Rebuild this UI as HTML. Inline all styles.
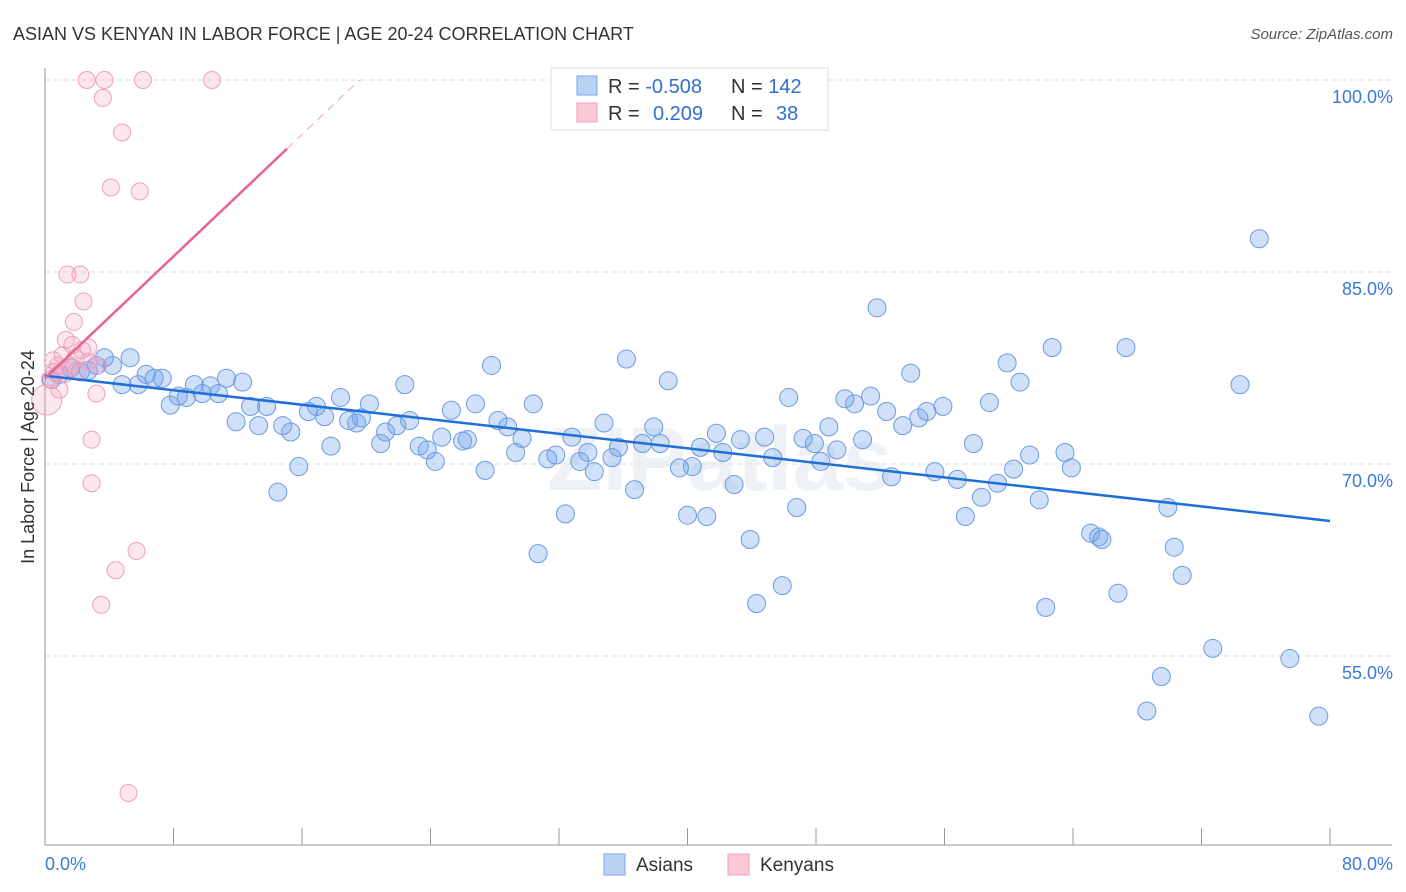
<!DOCTYPE html>
<html><head><meta charset="utf-8"><style>
body{margin:0;background:#fff;font-family:"Liberation Sans",sans-serif;}
svg{display:block}
</style></head><body>
<svg id="chart" width="1406" height="892">
<text x="13" y="40" font-size="18" fill="#333">ASIAN VS KENYAN IN LABOR FORCE | AGE 20-24 CORRELATION CHART</text>
<text x="1393" y="39" font-size="15" fill="#555" font-style="italic" text-anchor="end">Source: ZipAtlas.com</text>
<text x="720" y="490" font-size="90" fill="#eef2f7" text-anchor="middle" font-weight="bold">ZIPatlas</text>
<g id="grid"></g>
<g id="axes"></g>
<g id="pts"></g>
<g id="lines"></g>
<text transform="translate(34,457) rotate(-90)" font-size="18" fill="#333" text-anchor="middle">In Labor Force | Age 20-24</text>
<text x="45" y="870" font-size="18" fill="#3a7bd5">0.0%</text>
<text x="1393" y="870" font-size="18" fill="#3a7bd5" text-anchor="end">80.0%</text>
<g>
<rect x="551" y="68" width="277" height="62" fill="#fff" stroke="#ddd"/>
<rect x="577" y="76" width="20" height="19" fill="#b9d3f5" stroke="#7aa6e6"/>
<rect x="577" y="103" width="20" height="19" fill="#fbc8d6" stroke="#f0a0b8"/>
<text x="608" y="93" font-size="20" fill="#333">R = <tspan fill="#2f6fd0">-0.508</tspan></text>
<text x="731" y="93" font-size="20" fill="#333">N = <tspan fill="#2f6fd0">142</tspan></text>
<text x="608" y="120" font-size="20" fill="#333">R = <tspan fill="#2f6fd0" x="653">0.209</tspan></text>
<text x="731" y="120" font-size="20" fill="#333">N = <tspan fill="#2f6fd0" x="776">38</tspan></text>
</g>
<g>
<rect x="604" y="854" width="21" height="21" fill="#b9d3f5" stroke="#7aa6e6"/>
<text x="636" y="871" font-size="19" fill="#333">Asians</text>
<rect x="728" y="854" width="21" height="21" fill="#fbc8d6" stroke="#f0a0b8"/>
<text x="760" y="871" font-size="19" fill="#333">Kenyans</text>
</g>
</svg>
<script>
const yTicks=[100,85,70,55];
const yTickLabels=["100.0%","85.0%","70.0%","55.0%"];
const xTicks=[0,8,16,24,32,40,48,56,64,72,80];
const asianX=[0.4,0.9,1.6,2.2,2.7,3.2,3.7,4.2,4.8,5.3,5.8,6.3,6.8,7.3,7.8,8.3,8.8,9.3,9.8,10.3,10.8,11.3,11.9,12.3,12.8,13.3,13.8,14.5,14.8,15.3,15.8,16.4,16.9,17.4,17.8,18.4,18.9,19.4,19.7,20.2,20.9,21.2,21.9,22.4,22.7,23.3,23.8,24.3,24.7,25.3,26.0,26.3,26.8,27.4,27.8,28.2,28.8,29.3,29.7,30.4,30.7,31.3,31.8,32.4,32.8,33.3,33.8,34.2,34.8,35.3,35.7,36.2,36.7,37.2,37.9,38.3,38.8,39.5,40.0,40.3,40.8,41.2,41.8,42.2,42.9,43.3,43.9,44.3,44.8,45.3,45.9,46.3,46.8,47.2,47.9,48.3,48.8,49.3,49.8,50.4,50.9,51.4,51.8,52.4,52.7,53.4,53.9,54.4,54.9,55.4,55.9,56.8,57.3,57.8,58.3,58.8,59.3,59.9,60.3,60.7,61.3,61.9,62.3,62.7,63.5,63.9,65.1,65.6,65.8,66.8,67.3,68.6,69.5,69.9,70.3,70.8,72.7,74.4,75.6,77.5,79.3];
const asianY=[76.6,77.0,77.5,77.2,77.3,77.7,78.3,77.7,76.2,78.3,76.2,77.0,76.7,76.7,74.6,75.3,75.2,76.2,75.5,76.1,75.5,76.7,73.3,76.4,74.5,73.0,74.5,67.8,73.0,72.5,69.8,74.1,74.5,73.7,71.4,75.2,73.4,73.2,73.6,74.7,71.6,72.5,73.0,76.2,73.4,71.4,71.1,70.2,72.1,74.2,71.8,71.9,74.7,69.5,77.7,73.4,72.9,70.9,72.0,74.7,63.0,70.4,70.7,66.1,72.1,70.2,70.9,69.4,73.2,70.5,71.3,78.2,68.0,71.6,72.9,71.6,76.5,69.7,66.0,69.8,71.3,65.9,72.4,70.9,68.4,71.9,64.1,59.1,72.1,70.5,60.5,75.2,66.6,72.0,71.6,70.2,72.9,71.1,75.1,74.7,71.9,75.3,82.2,74.1,69.0,73.0,77.1,73.6,74.1,69.4,74.5,68.8,65.9,71.6,67.4,74.8,68.5,77.9,69.6,76.4,70.7,67.2,58.8,79.1,70.9,69.7,64.6,64.3,64.1,59.9,79.1,50.7,53.4,66.6,63.5,61.3,55.6,76.2,87.6,54.8,50.3];
const kenyanX=[0.1,0.3,0.5,0.6,0.9,1.1,1.3,1.4,1.6,1.8,1.9,2.2,2.4,2.7,2.9,2.9,3.2,2.6,3.5,3.7,3.6,4.1,4.4,4.8,5.7,5.9,6.1,10.4,5.2,2.3,2.7,1.7,0.8,1.2,3.3,2.0];
const kenyanY=[75.0,76.6,78.1,77.2,75.8,78.5,79.7,84.8,77.7,81.1,78.3,84.8,82.7,78.0,71.9,68.5,75.5,100,59.0,100,98.6,91.6,61.7,95.9,63.2,91.3,100,100,44.3,78.9,79.1,79.3,77.7,77.0,77.7,77.3];
const asianTrend=[76.9,65.55];
const kenyanTrend=[76.7,1.19];

const X0=45,X1=1330,Y100=80,PXY=12.8;
const xs=v=>X0+(X1-X0)*v/80;
const ys=v=>Y100+(100-v)*PXY;
const NS="http://www.w3.org/2000/svg";
function mk(tag,attrs,parent){const e=document.createElementNS(NS,tag);for(const k in attrs)e.setAttribute(k,attrs[k]);parent.appendChild(e);return e;}
const grid=document.getElementById('grid'),axes=document.getElementById('axes'),pts=document.getElementById('pts'),lines=document.getElementById('lines');
yTicks.forEach((t,i)=>{
  const l=mk('line',{x1:45,x2:1392,y1:ys(t),y2:ys(t),stroke:'#ddd','stroke-dasharray':'5,4'},grid);
  
  
  const tx=mk('text',{x:1393,y:ys(t)+23,'font-size':18,fill:'#3a7bd5','text-anchor':'end'},grid);
  tx.textContent=yTickLabels[i];
  
  
});
const ya=mk('line',{x1:45,x2:45,y1:68,y2:845,stroke:'#999'},axes);


const xa=mk('line',{x1:45,x2:1392,y1:845,y2:845,stroke:'#999'},axes);


xTicks.forEach(t=>{
  const l=mk('line',{x1:xs(t),x2:xs(t),y1:828,y2:845,stroke:'#999'},axes);
  
  
});
asianX.forEach((v,i)=>{
  const c=mk('circle',{cx:xs(v),cy:ys(asianY[i]),r:9,fill:'rgba(110,160,235,0.32)',stroke:'#6b9be0','stroke-width':1},pts);
  
  
});
kenyanX.forEach((v,i)=>{
  const c=mk('circle',{cx:xs(v),cy:ys(kenyanY[i]),r:i===0?15:8.5,fill:'rgba(245,160,190,0.25)',stroke:'#f0a0b8','stroke-width':1},pts);
  
  
});
const bl=mk('line',{x1:xs(0),y1:ys(asianTrend[0]),x2:xs(80),y2:ys(asianTrend[1]),stroke:'#1f6fd6','stroke-width':2.5},lines);


const kEnd=15.07,kMax=(100-kenyanTrend[0])/kenyanTrend[1];
const pl=mk('line',{x1:xs(0),y1:ys(kenyanTrend[0]),x2:xs(kEnd),y2:ys(kenyanTrend[0]+kenyanTrend[1]*kEnd),stroke:'#e8658e','stroke-width':2.5},lines);


const pd=mk('line',{x1:xs(kEnd),y1:ys(kenyanTrend[0]+kenyanTrend[1]*kEnd),x2:xs(kMax),y2:ys(100),stroke:'#f0a0b8','stroke-width':1,'stroke-dasharray':'8,6'},lines);


</script>
</body></html>
